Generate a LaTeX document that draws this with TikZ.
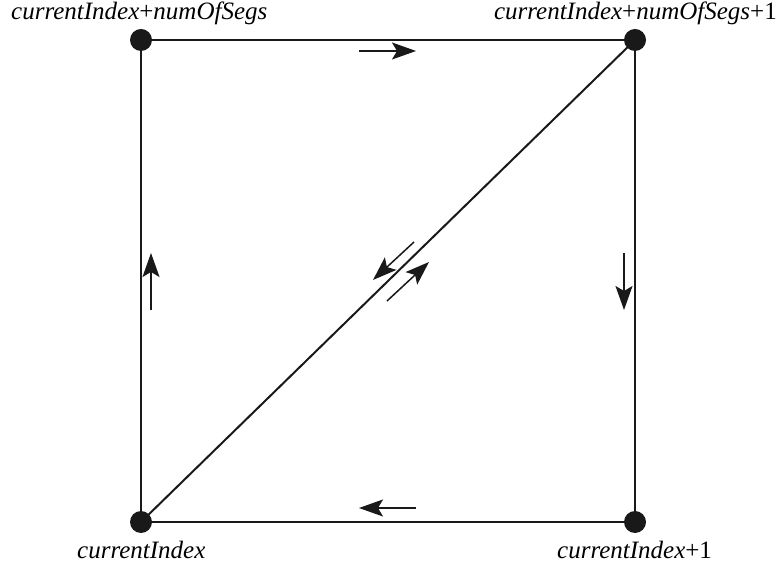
\documentclass[tikz,border=0pt]{standalone}
\usepackage{fontspec}
\setmainfont{Liberation Serif}
\usetikzlibrary{arrows.meta}
\begin{document}
\begin{tikzpicture}[x=1pt,y=1pt,
  dot/.style={circle,fill=black!90,inner sep=0pt,minimum size=22pt},
  edge/.style={line width=2pt,black!90},
  flow/.style={line width=1.5pt,black!90,-{Stealth[length=24pt,width=17pt,inset=5pt]}},
  lbl/.style={inner sep=0pt,font=\fontsize{25}{28}\selectfont}]
\useasboundingbox (0,0) rectangle (778,567);
\node[dot] (tl) at (141,527) {};
\node[dot] (tr) at (635,527) {};
\node[dot] (bl) at (141,45) {};
\node[dot] (br) at (635,45) {};
\draw[edge] (tl.center) -- (tr.center) -- (br.center) -- (bl.center) -- cycle;
\draw[edge] (bl.center) -- (tr.center);
\node[lbl,anchor=base west] (ltl) at (11,547) {\textit{currentIndex}+\textit{numOfSegs}};
\node[lbl,anchor=base east] (ltr) at (777,547) {\textit{currentIndex}+\textit{numOfSegs}+1};
\node[lbl,anchor=base west] (lbl) at (77,9) {\textit{currentIndex}};
\node[lbl,anchor=base west] (lbr) at (557,9) {\textit{currentIndex}+1};
\coordinate (t1) at (359,516); \coordinate (t2) at (416,516);
\coordinate (r1) at (624,314); \coordinate (r2) at (624,257);
\coordinate (b1) at (416,59); \coordinate (b2) at (359,59);
\coordinate (l1) at (151,257); \coordinate (l2) at (151,314);
\coordinate (d1) at (414,325); \coordinate (d2) at (373,287);
\coordinate (e1) at (387,266); \coordinate (e2) at (429,305);
\draw[flow] (t1) -- (t2);
\draw[flow] (r1) -- (r2);
\draw[flow] (b1) -- (b2);
\draw[flow] (l1) -- (l2);
\draw[flow] (d1) -- (d2);
\draw[flow] (e1) -- (e2);
\end{tikzpicture}
\end{document}
